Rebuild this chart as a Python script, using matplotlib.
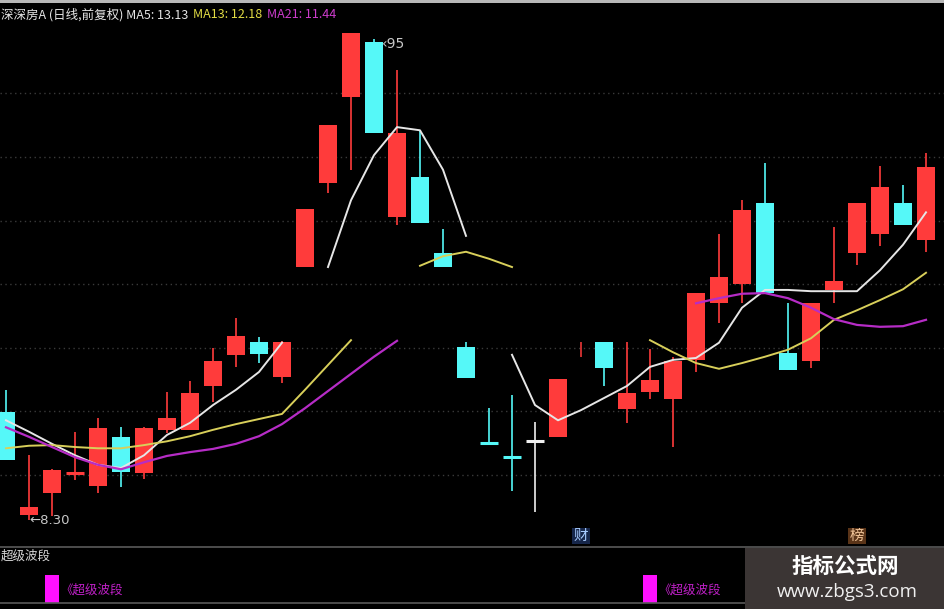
import numpy as np
import matplotlib
matplotlib.use("Agg")
import matplotlib.pyplot as plt
from matplotlib.patches import Rectangle
from matplotlib.lines import Line2D

plt.rcParams['font.family'] = ['Noto Sans CJK SC', 'DejaVu Sans']

# ---------------- data ----------------
idx = np.arange(41)
opens = [9.99, 8.37, 8.72, 9.02, 8.83, 9.60, 9.03, 9.71, 9.71, 10.40,
         10.89, 11.09, 10.54, 12.27, 13.59, 14.94, 15.81, 13.06, 13.69, 12.49,
         11.01, 9.51, 9.29, 9.53, 9.60, np.nan, 11.09, 10.04, 10.31, 10.19,
         10.81, 11.70, 12.00, 13.28, 10.92, 10.79, 11.91, 12.49, 12.79, 13.28,
         12.69]
closes = [9.24, 8.50, 9.08, 9.04, 9.74, 9.05, 9.74, 9.90, 10.29, 10.79,
          11.19, 10.90, 11.09, 13.18, 14.50, 15.95, 14.38, 14.38, 12.96, 12.27,
          10.53, 9.49, 9.27, 9.53, 10.51, np.nan, 10.68, 10.29, 10.49, 10.79,
          11.86, 12.11, 13.17, 11.86, 10.65, 11.70, 12.05, 13.28, 13.53, 12.93,
          13.84]
highs = [10.34, 9.31, 9.10, 9.68, 9.90, 9.75, 9.76, 10.31, 10.48, 11.00,
         11.47, 11.17, 11.10, 13.18, 14.50, 15.95, 15.85, 15.37, 14.42, 12.87,
         11.09, 10.05, 10.26, 9.83, 10.51, 11.09, 11.09, 11.09, 10.98, 10.86,
         11.86, 12.79, 13.32, 13.91, 11.70, 11.70, 12.90, 13.28, 13.86, 13.56,
         14.06]
lows = [9.24, 8.30, 8.35, 8.92, 8.72, 8.81, 8.94, 9.66, 9.71, 10.15,
        10.70, 10.76, 10.45, 12.27, 13.43, 13.80, 14.38, 12.93, 12.96, 12.27,
        10.53, 9.49, 8.75, 8.42, 9.60, 10.86, 10.40, 9.82, 10.19, 9.44,
        10.62, 11.39, 11.70, 11.86, 10.65, 10.68, 11.70, 12.30, 12.60, 12.93,
        12.51]

nan = np.nan
ma5 = [9.86, 9.68, 9.49, 9.31, 9.16, 9.11, 9.31, 9.63, 9.82, 10.10,
       10.34, 10.62, 11.08, nan, 12.27, 13.32, 14.03, 14.47, 14.42, 13.80,
       12.76, nan, 10.89, 10.10, 9.86, 10.02, 10.21, 10.40, 10.70, 10.81,
       10.84, 11.08, 11.63, 11.91, 11.91, 11.89, 11.89, 11.89, 12.22, 12.62,
       13.13]
ma13 = [9.42, 9.46, 9.47, 9.44, 9.42, 9.42, 9.47, 9.53, 9.61, 9.71,
        9.80, 9.88, 9.96, 10.34, 10.73, 11.12, nan, nan, 12.29, 12.44,
        12.51, 12.40, 12.27, nan, nan, nan, nan, nan, 11.12, 10.93,
        10.76, 10.67, 10.76, 10.86, 10.97, 11.15, 11.44, 11.59, 11.75, 11.92,
        12.18]
ma21 = [9.75, 9.60, 9.44, 9.28, 9.16, 9.09, 9.20, 9.30, 9.36, 9.41,
        9.49, 9.61, 9.80, 10.05, 10.32, 10.59, 10.86, 11.11, nan, nan,
        nan, nan, nan, nan, nan, nan, nan, nan, nan, nan,
        11.70, 11.78, 11.85, 11.86, 11.78, 11.63, 11.45, 11.36, 11.33, 11.34,
        11.44]

low_label = "←8.30"
low_label_idx = 1
high_label = "‹95"
high_label_idx = 16
signal_idx = [2, 28]
signal_text = "《超级波段"
marker_idx = [25, 37]
marker_txt = ["财", "榜"]
title_parts = ["深深房A (日线,前复权) MA5: 13.13", "MA13: 12.18", "MA21: 11.44"]

# ---------------- layout ----------------
W, H = 945, 609
fig = plt.figure(figsize=(W / 100, H / 100), dpi=100, facecolor='black')

def fy(py):  # figure fraction from pixel y (top origin)
    return 1 - py / H

main_bottom = 546
ax = fig.add_axes([0, fy(main_bottom), 1, main_bottom / H], facecolor='black')
ax.set_xlim(-6 / 23, (W - 6) / 23)
ax.set_ylim(9 + (475 - 546) / 63.6, 9 + 475 / 63.6)
ax.axis('off')

# grid lines
for g in range(9, 16):
    ax.axhline(g, color='#3a3a3a', lw=1.0, ls=(0, (1, 2.5)), zorder=0)

RED = '#ff3b3b'
CYAN = '#55f8f8'
WHITE = '#f0f0f0'
bw = 0.78

for i in idx:
    o, c, h, l = opens[i], closes[i], highs[i], lows[i]
    if np.isnan(o):
        ax.vlines(i, l, h, color=RED, lw=1.1, zorder=2)
        continue
    if c > o:
        col = RED
    elif c < o:
        col = CYAN
    else:
        col = WHITE
    ax.vlines(i, l, h, color=col, lw=1.2, zorder=2)
    if abs(c - o) < 0.03:
        ax.hlines((o + c) / 2, i - bw / 2, i + bw / 2, color=col, lw=2.2, zorder=3)
    else:
        ax.bar(i, abs(c - o), bottom=min(o, c), width=bw, color=col, lw=0, zorder=3)

# price labels
ax.text(low_label_idx + 0.02, lows[low_label_idx] - 0.02, low_label, color='#c8c8c8',
        fontsize=9.5, va='center', ha='left', family=['DejaVu Sans'], zorder=6)
ax.text(high_label_idx + 0.33, highs[high_label_idx] - 0.08, high_label, color='#c8c8c8',
        fontsize=10, va='center', ha='left', family=['DejaVu Sans'], zorder=6)

ax.plot(idx, ma5, color='#e6e6e6', lw=1.4, zorder=4)
ax.plot(idx, ma13, color='#d8cf5a', lw=1.4, zorder=4)
ax.plot(idx, ma21, color='#b62cc6', lw=1.6, zorder=4)

marker_y = 9 + (475 - 536) / 63.6
ax.text(marker_idx[0], marker_y, marker_txt[0], color='#a8ccff', fontsize=10.5,
        ha='center', va='center', zorder=5,
        bbox=dict(boxstyle='square,pad=0.1', fc='#16264a', ec='none'))
ax.text(marker_idx[1], marker_y, marker_txt[1], color='#f2c69a', fontsize=10.5,
        ha='center', va='center', zorder=5,
        bbox=dict(boxstyle='square,pad=0.1', fc='#5a3418', ec='none'))

# indicator panel
ind = fig.add_axes([0, fy(603), 1, (603 - 547) / H], facecolor='black')
ind.set_xlim(ax.get_xlim())
ind.set_ylim(0, 1)
ind.axis('off')
ind.text(-0.22, 0.84, "超级波段", color='#d8d8d8', fontsize=9, ha='left', va='center')
for s in signal_idx:
    ind.bar(s, 0.5, bottom=0, width=0.65, color='#ff10ff', lw=0)
    ind.text(s + 0.36, 0.23, signal_text, color='#c020c8', fontsize=9,
             ha='left', va='center')

# separator lines
fig.add_artist(Line2D([0, 1], [fy(546.5), fy(546.5)], color='#5a5a5a', lw=1.2))
fig.add_artist(Line2D([0, 1], [fy(603), fy(603)], color='#5a5a5a', lw=1.2))
# top strip
fig.add_artist(Rectangle((0, fy(3)), 1, 3 / H, transform=fig.transFigure,
                         facecolor='#b8b8b8', edgecolor='none'))

# title
xs = [1, 193, 267]
cols = ['#e6e6e6', '#e2dc44', '#cc3ccc']
for x, t, c in zip(xs, title_parts, cols):
    fig.text(x / W, fy(15), t, color=c, fontsize=9, ha='left', va='center')

# watermark box
fig.add_artist(Rectangle((745 / W, 0), 200 / W, fy(548), transform=fig.transFigure,
                         facecolor='#3b3534', edgecolor='none', zorder=10))
fig.text(845 / W, fy(566), "指标公式网", color='white', fontsize=15.5, weight='bold',
         ha='center', va='center', zorder=11)
fig.text(847 / W, fy(592), "www.zbgs3.com", color='#f0f0f0', fontsize=13.5,
         ha='center', va='center', zorder=11, family=['Open Sans', 'DejaVu Sans'])

fig.savefig('out.png', dpi=100, facecolor='black')
